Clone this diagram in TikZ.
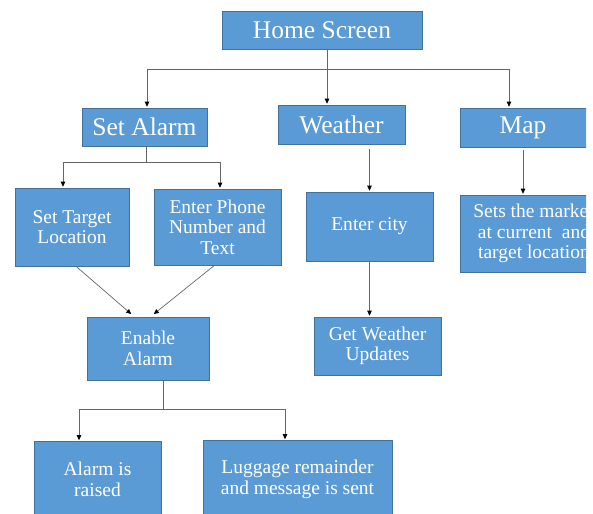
\documentclass[tikz,border=0pt]{standalone}
\usepackage{fontspec}
\setmainfont{Liberation Serif}
\usetikzlibrary{arrows.meta}
\definecolor{bleu}{HTML}{5B9BD5}
\definecolor{bord}{HTML}{41719C}
\tikzset{
  boite/.style={draw=bord, line width=0.6pt, fill=bleu, text=white, inner sep=0pt,
    align=center, font=\fontsize{19.5}{20.5}\selectfont},
  titre/.style={boite, font=\fontsize{25.5}{28}\selectfont},
  trait/.style={draw=black!60, line width=0.7pt},
  fleche/.style={trait, -{Triangle[length=5pt,width=4.5pt,color=black]}, shorten >=1pt},
}
\begin{document}
\begin{tikzpicture}[x=1pt,y=-1pt]
    \useasboundingbox (0,0) rectangle (593,513);
    \clip (0,0) rectangle (586,513);
    % Niveau 1
    \node[titre, minimum width=200, minimum height=38] (home) at (322,30) {Home Screen};
    % Niveau 2
    \node[titre, minimum width=125, minimum height=38] (setalarm) at (144.5,127) {Set Alarm};
    \node[titre, minimum width=127, minimum height=39] (weather) at (341.5,124.5) {Weather};
    \node[titre, minimum width=126, minimum height=39] (map) at (523,127.5) {Map};
    % Niveau 3
    \node[boite, minimum width=114, minimum height=78] (target) at (72,227) {Set Target\\Location};
    \node[boite, minimum width=127, minimum height=76] (phone) at (217.5,227) {Enter Phone\\Number and\\Text};
    \node[boite, minimum width=127, minimum height=69] (city) at (369.5,226.5) {Enter city};
    \node[boite, minimum width=148, minimum height=77] (marker) at (534,233.5) {Sets the marker\\at current\ \ and\\target location};
    % Niveau 4
    \node[boite, minimum width=122, minimum height=63] (enable) at (148,348.5) {Enable\\Alarm};
    \node[boite, minimum width=127, minimum height=58] (getweather) at (377.5,346) {Get Weather\\Updates};
    % Niveau 5
    \node[boite, minimum width=127, minimum height=76] (raised) at (97.5,479.5) {Alarm is\\raised};
    \node[boite, minimum width=189, minimum height=78] (luggage) at (297.5,479.5) {Luggage remainder\\and message is sent};
    % Bus sous Home Screen
    \coordinate (hbus) at (327,69);
    \coordinate (hbusL) at (147,69);
    \coordinate (hbusR) at (509,69);
    \draw[trait] (home.south -| hbus) -- (hbus);
    \draw[trait] (hbusL) -- (hbusR);
    \draw[fleche] (hbusL) -- (hbusL |- setalarm.north);
    \draw[fleche] (hbus) -- (hbus |- weather.north);
    \draw[fleche] (hbusR) -- (hbusR |- map.north);
    % Bus sous Set Alarm
    \coordinate (abus) at (146,162);
    \coordinate (abusL) at (63,162);
    \coordinate (abusR) at (220,162);
    \draw[trait] (setalarm.south -| abus) -- (abus);
    \draw[trait] (abusL) -- (abusR);
    \draw[fleche] (abusL) -- (abusL |- target.north);
    \draw[fleche] (abusR) -- (abusR |- phone.north);
    % Colonnes Weather et Map
    \draw[fleche, shorten <=5pt] (weather.south -| city.north) -- (city.north);
    \draw[fleche] (city.south) -- (city.south |- getweather.north);
    \draw[fleche, shorten <=3pt] (map.south) -- (map.south |- marker.north);
    % Vers Enable Alarm
    \draw[fleche] ([xshift=4pt]target.south) -- ([xshift=-16pt,yshift=2pt]enable.north);
    \draw[fleche] ([xshift=-3pt]phone.south) -- ([xshift=5pt,yshift=2pt]enable.north);
    % Bus sous Enable Alarm
    \coordinate (ebus) at (163,409);
    \coordinate (ebusL) at (79,409);
    \coordinate (ebusR) at (285,409);
    \draw[trait] (enable.south -| ebus) -- (ebus);
    \draw[trait] (ebusL) -- (ebusR);
    \draw[fleche] (ebusL) -- (ebusL |- raised.north);
    \draw[fleche] (ebusR) -- (ebusR |- luggage.north);
\end{tikzpicture}
\end{document}
